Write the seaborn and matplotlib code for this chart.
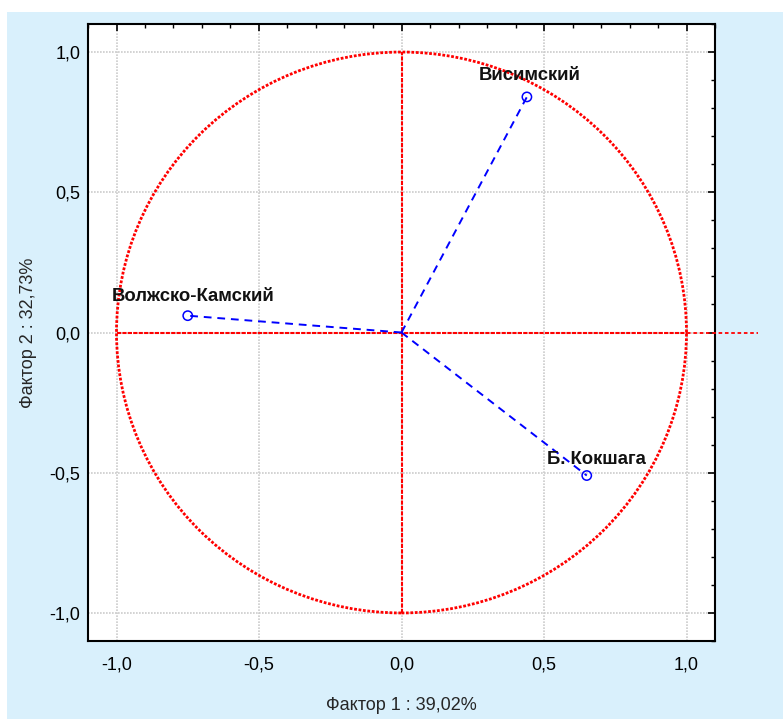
import matplotlib
matplotlib.use("Agg")
import matplotlib.pyplot as plt
import matplotlib.patches as mpatches
from matplotlib.ticker import MultipleLocator, FuncFormatter
import seaborn as sns
import pandas as pd

names = ["Висимский", "Волжско-Камский", "Б. Кокшага"]
factor1 = [0.44, -0.75, 0.65]
factor2 = [0.84, 0.06, -0.51]
xlabel = "Фактор 1 : 39,02%"
ylabel = "Фактор 2 : 32,73%"

sns.set_theme(style="white")
plt.rcParams['font.family'] = ['Liberation Sans', 'DejaVu Sans']

fig = plt.figure(figsize=(7.83, 7.19), dpi=100)
fig.patch.set_facecolor("white")
bg = mpatches.Rectangle((7/783, 0), 1 - 7/783, 1 - 12/719, transform=fig.transFigure,
                        facecolor="#d9f0fc", edgecolor="none", zorder=-10)
fig.patches.append(bg)

ax = fig.add_axes([88/783, 1 - 641/719, (715-88)/783, (641-24)/719])
ax.set_facecolor("white")
ax.set_xlim(-1.1, 1.1)
ax.set_ylim(-1.1, 1.1)

red = "#ff0000"
circ = mpatches.Circle((0, 0), 1.0, fill=False, edgecolor=red, linewidth=2.0,
                       linestyle=(0, (1, 0.6)), zorder=3)
ax.add_patch(circ)
ax.plot([-1, 1], [0, 0], color=red, lw=1.5, linestyle=(0, (2, 0.6)), zorder=3)
ax.plot([0, 0], [-1, 1], color=red, lw=1.5, linestyle=(0, (2, 0.6)), zorder=3)
ax.plot([1, 1.25], [0, 0], color=red, lw=1.3, linestyle=(0, (2, 1.5)),
        clip_on=False, zorder=3)

df = pd.DataFrame({"name": names, "f1": factor1, "f2": factor2})
for _, r in df.iterrows():
    seg = pd.DataFrame({"x": [0, r.f1], "y": [0, r.f2]})
    sns.lineplot(data=seg, x="x", y="y", ax=ax, color="#0000ff", lw=1.4,
                 linestyle=(0, (4, 3)), sort=False, zorder=4)
sns.scatterplot(data=df, x="f1", y="f2", ax=ax, marker="o", s=45,
                facecolor="none", edgecolor="#0000ff", linewidth=1.1, zorder=5)

offsets = {"Висимский": (0.01, 0.075), "Волжско-Камский": (0.02, 0.068), "Б. Кокшага": (0.035, 0.057)}
for _, r in df.iterrows():
    dx, dy = offsets[r["name"]]
    ax.text(r.f1 + dx, r.f2 + dy, r["name"], ha="center", va="center",
            fontsize=13.3, fontweight="bold", color="#111111", zorder=6)

ax.xaxis.set_major_locator(MultipleLocator(0.5))
ax.yaxis.set_major_locator(MultipleLocator(0.5))
ax.xaxis.set_minor_locator(MultipleLocator(0.1))
ax.yaxis.set_minor_locator(MultipleLocator(0.1))
fmt = FuncFormatter(lambda v, p: f"{v:.1f}".replace(".", ",").replace("-0,0", "0,0"))
ax.xaxis.set_major_formatter(fmt)
ax.yaxis.set_major_formatter(fmt)
ax.tick_params(which="both", direction="in", top=True, right=True, colors="black",
               labelsize=13)
ax.tick_params(axis="x", which="major", pad=11)
ax.tick_params(axis="y", which="major", pad=5.5)
ax.tick_params(which="major", length=5, width=1.2)
ax.tick_params(which="minor", length=3, width=1)
ax.grid(True, which="major", color="#cccccc", linestyle=(0, (1, 0.8)), linewidth=1.2)
for s in ax.spines.values():
    s.set_color("black")
    s.set_linewidth(1.5)

ax.set_xlabel(xlabel, fontsize=13, labelpad=17)
ax.set_ylabel(ylabel, fontsize=13, labelpad=9)

fig.savefig("out.png", dpi=100)
